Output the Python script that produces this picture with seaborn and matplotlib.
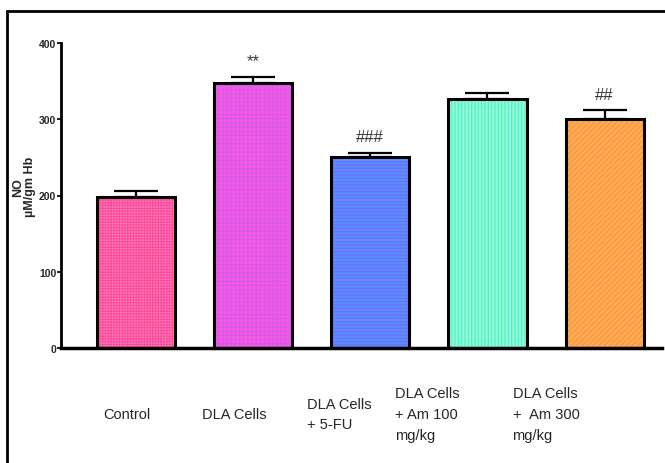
import matplotlib
matplotlib.use("Agg")
import matplotlib.pyplot as plt
from matplotlib.patches import Rectangle
import seaborn as sns
import pandas as pd

groups = ["Control", "DLA Cells", "DLA Cells\n+ 5-FU", "DLA Cells\n+ Am 100\nmg/kg", "DLA Cells\n+  Am 300\nmg/kg"]
means = [198, 347, 251, 327, 300]
sems = [8, 9, 5, 7, 12]
marks = ["", "**", "###", "", "##"]
yticks = [0, 100, 200, 300, 400]
fill_colors = ["#FF3390", "#FF58E0", "#5590FF", "#8CFCDA", "#FFAA55"]
hatch_colors = ["#FF70B0", "#D05CEE", "#7766FF", "#55EEBB", "#F5953A"]
hatches = ["++++++", "++++", "-----", "|||||", "//////"]
label_x = [-0.28, 0.564, 1.458, 2.208, 3.214]

sns.set_theme(style="white")
plt.rcParams["font.family"] = ["Liberation Sans Narrow", "Liberation Sans", "DejaVu Sans"]
plt.rcParams["hatch.linewidth"] = 0.8

df = pd.DataFrame({"group": groups, "mean": means})

fig = plt.figure(figsize=(6.65, 4.64), dpi=100)
ax = fig.add_axes([61/665, 1-349/464, (662-61)/665, (349-44)/464])

sns.barplot(data=df, x="group", y="mean", hue="group", palette=fill_colors,
            width=0.667, errorbar=None, legend=False, ax=ax, saturation=1)

for p, h, hc in zip(ax.patches, hatches, hatch_colors):
    p.set_hatch(h)
    p.set_edgecolor(hc)
    p.set_linewidth(0)
    ax.add_patch(Rectangle(p.get_xy(), p.get_width(), p.get_height(),
                           fill=False, edgecolor="black", linewidth=2.2, zorder=3))

xs = list(range(len(groups)))
ax.errorbar(xs, means, yerr=[[0]*len(sems), sems], fmt="none", ecolor="black",
            elinewidth=1.6, capsize=16, capthick=1.6, zorder=2)

for x, m, s, t in zip(xs, means, sems, marks):
    if t:
        ax.annotate(t, (x, m + s), xytext=(0, 6), textcoords="offset points",
                    ha="center", va="bottom", fontsize=12, color="#333333")

ax.set_ylim(0, 400)
ax.set_xlim(-0.64, 4.49)
ax.set_yticks(yticks)
ax.set_yticklabels([str(v) for v in yticks], fontsize=7.5, fontweight="bold")
ax.tick_params(axis="y", which="both", direction="out", length=3, width=1.5, pad=0.5, left=True)
ax.set_xticks([])
ax.set_xlabel("")
ax.set_ylabel("NO\nµM/gm Hb", fontsize=9, fontweight="bold",
              family=["Liberation Sans", "DejaVu Sans"], linespacing=0.95)
ax.yaxis.set_label_coords(-0.042, 0.53)

for s in ["top", "right"]:
    ax.spines[s].set_visible(False)
ax.spines["left"].set_linewidth(2)
ax.spines["bottom"].set_linewidth(2.5)
ax.spines["left"].set_color("black")
ax.spines["bottom"].set_color("black")

label_y = -(415 - 349) / 305
for lx, g in zip(label_x, groups):
    ax.text(lx, label_y, g, transform=ax.get_xaxis_transform(), fontsize=10.5,
            ha="left", va="center", linespacing=1.6)

fig.add_artist(Rectangle((7/665, -0.05), 1.1, 1-12/464+0.05, transform=fig.transFigure,
                         fill=False, edgecolor="black", linewidth=2))

fig.savefig("out.png", dpi=100)
